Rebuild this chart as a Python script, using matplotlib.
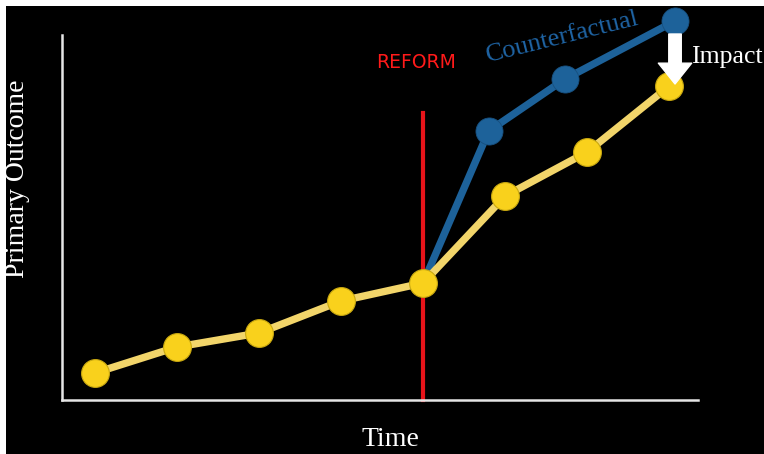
import matplotlib
matplotlib.use("Agg")
import matplotlib.pyplot as plt
from matplotlib.patches import Rectangle

# ---- data ----
time_actual = [0, 1, 2, 3, 4, 5, 6, 7]
outcome_actual = [2.7, 5.3, 6.7, 9.9, 11.7, 20.4, 24.8, 31.4]
time_counter = [4.0, 4.8, 5.73, 7.07]
outcome_counter = [11.7, 26.9, 32.1, 37.9]
reform_time = 4.0
reform_top = 28.7
xlim = (-0.40, 7.35)
ylim = (0, 36.5)

W, H = 764, 454
fig = plt.figure(figsize=(W / 100, H / 100), dpi=100)
fig.patch.set_facecolor("white")
fig.add_artist(Rectangle((6 / W, 0), 1, (H - 6) / H, transform=fig.transFigure,
                         facecolor="black", edgecolor="none", zorder=0))

ax = fig.add_axes([62 / W, (H - 400) / H, (698 - 62) / W, (400 - 35) / H])
ax.set_facecolor("none")
ax.set_xlim(*xlim)
ax.set_ylim(*ylim)
for s in ["top", "right"]:
    ax.spines[s].set_visible(False)
for s in ["left", "bottom"]:
    ax.spines[s].set_color("#e6e6e6")
    ax.spines[s].set_linewidth(1.8)
ax.set_xticks([])
ax.set_yticks([])

# reform line
ax.plot([reform_time, reform_time], [ylim[0], reform_top], color="#e8141a",
        lw=3, zorder=2, clip_on=False)

# counterfactual
ax.plot(time_counter, outcome_counter, color="#1d629a", lw=5.3, zorder=3,
        clip_on=False, solid_capstyle="round")
ax.plot(time_counter[1:], outcome_counter[1:], "o", color="#1d629a", ms=19.5,
        mec="#174f7e", mew=0.6, zorder=4, clip_on=False)

# actual
ax.plot(time_actual, outcome_actual, color="#f2d56a", lw=5.3, zorder=3,
        clip_on=False, solid_capstyle="round")
ax.plot(time_actual, outcome_actual, "o", color="#f9d11c", ms=20,
        mec="#c9a810", mew=0.8, zorder=5, clip_on=False)

# impact arrow
ax.annotate("", xy=(time_counter[-1], 31.6), xytext=(time_counter[-1], 36.6),
            arrowprops=dict(arrowstyle="simple,head_width=1.6,head_length=1.0,tail_width=0.6",
                            color="white", mutation_scale=15, shrinkA=0, shrinkB=0),
            zorder=6, annotation_clip=False)

serif = ["Liberation Serif", "DejaVu Serif"]
ax.text(7.26, 34.3, "Impact", color="white", fontsize=18.5, family=serif,
        ha="left", va="center", clip_on=False)
ax.text(5.70, 36.3, "Counterfactual", color="#1f64a4", fontsize=19, family=serif,
        ha="center", va="center", rotation=14, rotation_mode="anchor", clip_on=False)
ax.text(3.915, 33.7, "REFORM", color="#ff1a1a", fontsize=13.5, family="DejaVu Sans",
        ha="center", va="center")

fig.text(390 / W, 1 - 439 / H, "Time", color="white", fontsize=20, family=serif,
         ha="center", va="center")
fig.text(18 / W, 1 - 179 / H, "Primary Outcome", color="white", fontsize=20,
         family=serif, ha="center", va="center", rotation=90)

fig.savefig("out.png", dpi=100, facecolor=fig.get_facecolor())
